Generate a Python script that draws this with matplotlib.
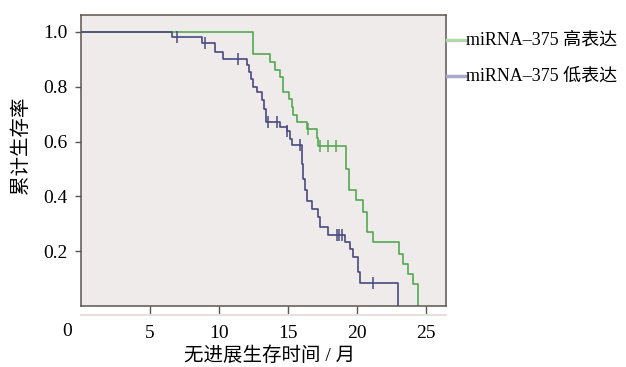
import matplotlib
matplotlib.use("Agg")
import matplotlib.pyplot as plt
from matplotlib.lines import Line2D

plt.rcParams['font.family'] = ['Liberation Serif', 'Noto Sans CJK SC', 'DejaVu Sans']

# Kaplan-Meier step data (event time, survival after event)
high_t = [0, 12.44, 13.7, 14.06, 14.4, 14.66, 15.1, 15.27, 15.39, 15.63, 16.35, 17.07, 17.2,
          19.2, 19.42, 19.93, 20.43, 20.72, 21.16, 23.04, 23.33, 23.7, 24.06, 24.42]
high_s = [1.0, 0.921, 0.89, 0.863, 0.836, 0.781, 0.757, 0.726, 0.696, 0.671, 0.647, 0.614, 0.583,
          0.50, 0.422, 0.388, 0.343, 0.27, 0.233, 0.19, 0.154, 0.118, 0.081, 0.0]
high_cens_t = [16.47, 17.32, 17.92, 18.48]
high_cens_s = [0.647, 0.583, 0.583, 0.583]

low_t = [0, 6.57, 8.74, 9.71, 10.27, 12.0, 12.2, 12.32, 12.49, 12.73, 13.1, 13.26, 13.4,
         14.42, 14.9, 15.14, 15.27, 16.0, 16.11, 16.23, 16.35, 16.72, 17.2, 17.32, 17.92,
         19.13, 19.49, 19.73, 20.05, 20.22, 23.0]
low_s = [1.0, 0.982, 0.958, 0.927, 0.903, 0.878, 0.854, 0.83, 0.80, 0.781, 0.75, 0.72, 0.671,
         0.653, 0.639, 0.611, 0.586, 0.52, 0.465, 0.422, 0.385, 0.355, 0.324, 0.288, 0.258,
         0.233, 0.209, 0.178, 0.124, 0.083, 0.0]
low_cens_t = [6.93, 8.99, 11.35, 13.57, 14.18, 14.95, 15.87, 18.53, 18.72, 18.89, 21.18]
low_cens_s = [0.982, 0.958, 0.903, 0.671, 0.671, 0.639, 0.586, 0.258, 0.258, 0.258, 0.083]

x_ticks = [5, 10, 15, 20, 25]
y_ticks = [0.2, 0.4, 0.6, 0.8, 1.0]
y_ticklabels = ['0.2', '0.4', '0.6', '0.8', '1.0']
legend_labels = ['miRNA–375 高表达', 'miRNA–375 低表达']
xlabel = '无进展生存时间 / 月'
ylabel = '累计生存率'

green = '#55a852'
blue = '#4a4a80'
green_leg = '#b2d8ae'
blue_leg = '#a9a9c9'
frame = '#5e5450'

W, H = 626, 367
fig = plt.figure(figsize=(6.26, 3.67), dpi=100)
fig.patch.set_facecolor('white')
ax = fig.add_axes([81/W, 1-306/H, (446-81)/W, (306-15)/H])
ax.set_facecolor('#efebea')

ax.step(high_t, high_s, where='post', color=green, lw=1.2)
ax.step(low_t, low_s, where='post', color=blue, lw=1.2)
ax.plot(high_cens_t, high_cens_s, ls='none', marker='|', ms=8, mew=1.1, color=green)
ax.plot(low_cens_t, low_cens_s, ls='none', marker='|', ms=8, mew=1.1, color=blue)

ax.set_xlim(0, 26.45)
ax.set_ylim(0, 1.062)
ax.set_xticks(x_ticks)
ax.set_xticklabels([str(v) for v in x_ticks], fontsize=14)
ax.set_yticks(y_ticks)
ax.set_yticklabels(y_ticklabels, fontsize=14)
ax.tick_params(axis='x', direction='out', length=6, width=1.0, color=frame, pad=7.5)
ax.tick_params(axis='y', direction='out', length=4.5, width=1.0, color=frame, pad=5)
for sp in ax.spines.values():
    sp.set_color(frame)
    sp.set_linewidth(1.1)

# faint line below tick marks
ax.plot([0, 1], [-9/291, -9/291], transform=ax.transAxes, color='#e6e1df', lw=1.5, clip_on=False)

fig.text(67/W, 1-331/H, '0', fontsize=14, ha='center', va='center')

fig.text(270/W, 1-356/H, xlabel, fontsize=14, ha='center', va='center', fontweight='light')
fig.text(21/W, 1-145/H, ylabel, fontsize=14, ha='center', va='center', rotation=90, fontweight='light')

# legend (drawn in figure coords)
for y, c, lab in [(40, green_leg, legend_labels[0]), (76, blue_leg, legend_labels[1])]:
    fy = 1 - y/H
    fig.add_artist(Line2D([447/W, 466/W], [fy, fy], color=c, lw=2.5, transform=fig.transFigure))
    fig.text(466/W, fy, lab, fontsize=13, ha='left', va='center', fontweight='light')

fig.savefig('out.png', dpi=100)
